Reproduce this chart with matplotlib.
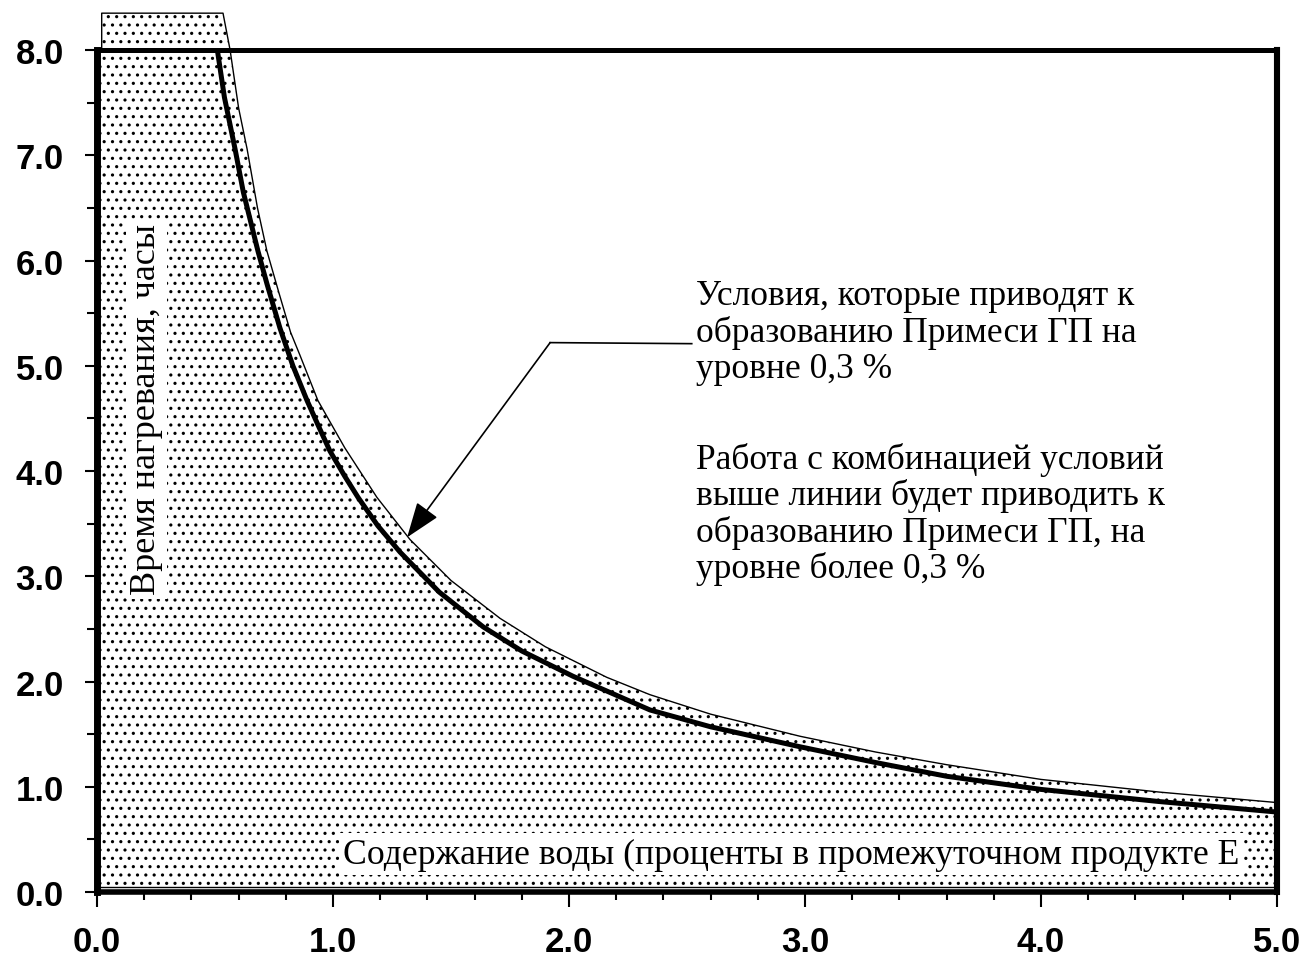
import matplotlib
matplotlib.use("Agg")
import matplotlib.pyplot as plt
from matplotlib.ticker import MultipleLocator, FormatStrFormatter

plt.rcParams['hatch.linewidth'] = 1.1

# values
# thick curve: conditions giving 0.3 % impurity
thick_x = [0.51, 0.54, 0.585, 0.62, 0.682, 0.72, 0.775, 0.83, 0.89, 0.94,
           0.987, 1.05, 1.106, 1.19, 1.284, 1.45, 1.636, 1.8, 2.017, 2.343,
           2.6, 2.979, 3.3, 3.6, 4.0, 4.5, 5.0]
thick_y = [8.0, 7.55, 7.06, 6.65, 6.09, 5.78, 5.36, 5.0, 4.67, 4.42,
           4.19, 3.95, 3.75, 3.48, 3.23, 2.85, 2.52, 2.29, 2.05, 1.73,
           1.57, 1.38, 1.23, 1.10, 0.975, 0.86, 0.76]

# thin upper edge of the stippled area (with the small tab above 8.0)
edge_x = [0.02, 0.02, 0.534, 0.564, 0.6, 0.636, 0.68, 0.72, 0.77, 0.82,
          0.86, 0.936, 1.05, 1.186, 1.326, 1.5, 1.708, 1.9, 2.16, 2.343,
          2.6, 2.979, 3.3, 3.6, 4.0, 4.5, 5.0]
edge_y = [8.0, 8.35, 8.35, 8.0, 7.45, 7.06, 6.5, 6.09, 5.7, 5.32,
          5.1, 4.67, 4.22, 3.75, 3.35, 2.96, 2.6, 2.33, 2.04, 1.875,
          1.69, 1.48, 1.33, 1.21, 1.07, 0.95, 0.85]

# leader line of the annotation: text end, elbow, arrow tip
leader_x = [2.52, 1.92]
leader_y = [5.21, 5.22]
arrow_tip = (1.314, 3.37)

note_1 = "Условия, которые приводят к\nобразованию Примеси ГП на\nуровне 0,3 %"
note_2 = ("Работа с комбинацией условий\nвыше линии будет приводить к\n"
          "образованию Примеси ГП, на\nуровне более 0,3 %")
xlabel = "Содержание воды (проценты в промежуточном продукте Е"
ylabel = "Время нагревания, часы"

fig = plt.figure(figsize=(13.07, 9.79), dpi=100)
ax = fig.add_axes([0.0742, 0.0878, 0.9029, 0.8601])
ax.set_xlim(0, 5)
ax.set_ylim(0, 8)

# stippled region under the curve
ax.fill_between([0.0] + edge_x, [8.0] + edge_y, 0, facecolor='white',
                edgecolor='black', hatch='..', linewidth=0, clip_on=False,
                zorder=1)
ax.plot(edge_x, edge_y, color='black', lw=1.0, clip_on=False, zorder=3)
ax.plot([0, 5], [0.05, 0.05], color='black', lw=1.0, zorder=3)
ax.plot(thick_x, thick_y, color='black', lw=3.6, solid_capstyle='butt',
        solid_joinstyle='round', zorder=4)

# frame
for side, w in [('left', 5.0), ('top', 3.6), ('right', 4.4), ('bottom', 4.0)]:
    ax.spines[side].set_linewidth(w)
    ax.spines[side].set_zorder(5)

ax.xaxis.set_major_locator(MultipleLocator(1.0))
ax.xaxis.set_minor_locator(MultipleLocator(0.2))
ax.yaxis.set_major_locator(MultipleLocator(1.0))
ax.yaxis.set_minor_locator(MultipleLocator(0.5))
ax.xaxis.set_major_formatter(FormatStrFormatter('%.1f'))
ax.yaxis.set_major_formatter(FormatStrFormatter('%.1f'))
ax.tick_params(axis='x', which='major', direction='out', length=11, width=1.5,
               pad=13)
ax.tick_params(axis='x', which='minor', direction='out', length=6, width=1.5)
ax.tick_params(axis='y', which='major', direction='out', length=9, width=1.5,
               pad=15)
ax.tick_params(axis='y', which='minor', direction='out', length=7, width=1.5)
for lab in ax.get_xticklabels() + ax.get_yticklabels():
    lab.set_family('Liberation Sans')
    lab.set_fontweight('bold')
    lab.set_fontsize(25)

serif = ['Liberation Serif', 'DejaVu Serif']
ax.text(0.21, 4.59, ylabel, rotation=90, ha='center', va='center',
        family=serif, fontsize=26, zorder=6,
        bbox=dict(facecolor='white', edgecolor='none', pad=3))
ax.text(4.84, 0.36, xlabel, ha='right', va='center', family=serif,
        fontsize=25.7, zorder=6,
        bbox=dict(facecolor='white', edgecolor='none', pad=3))

ax.text(2.54, 5.82, note_1, ha='left', va='top', family=serif, fontsize=25.5,
        linespacing=1.1, zorder=6)
ax.text(2.54, 4.28, note_2, ha='left', va='top', family=serif, fontsize=25.5,
        linespacing=1.1, zorder=6)

ax.plot(leader_x, leader_y, color='black', lw=1.2, zorder=6)
ax.annotate('', xy=arrow_tip, xytext=(leader_x[1], leader_y[1]),
            arrowprops=dict(arrowstyle='-|>,head_length=1.1,head_width=0.4',
                            color='black', lw=1.2, mutation_scale=20,
                            shrinkA=0, shrinkB=0),
            zorder=6)

fig.savefig('out.png', dpi=100)
